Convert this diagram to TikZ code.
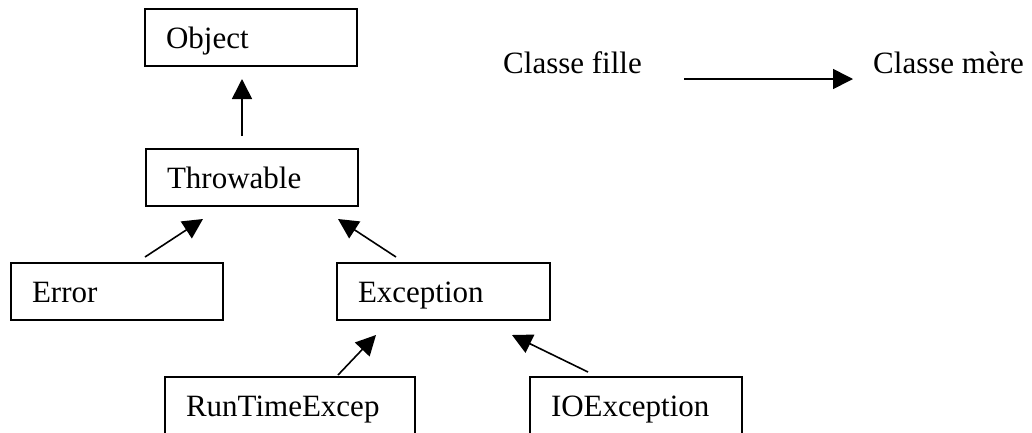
\documentclass[tikz,border=0pt]{standalone}
\usepackage{fontspec}
\setmainfont{Liberation Serif}
\usetikzlibrary{arrows.meta}
\begin{document}
\begin{tikzpicture}[x=1pt,y=-1pt,
  cls/.style={draw, line width=1.6pt, rectangle, anchor=north west, outer sep=0pt,
    minimum height=57pt, inner xsep=21pt, inner ysep=0pt,
    text height=28pt, text depth=6pt, align=left, text width=#1,
    font=\fontsize{31}{37}\selectfont},
  lbl/.style={anchor=base west, inner sep=0pt, font=\fontsize{31}{37}\selectfont},
  arr/.style={line width=1.6pt, -{Triangle[length=20pt,width=20pt]}}]
\useasboundingbox (0,0) rectangle (1032,432);
\clip (0,0) rectangle (1032,432);
% class boxes
\node[cls=170pt] (object) at (145,9) {Object};
\node[cls=170pt] (throwable) at (146,149) {Throwable};
\node[cls=170pt] (error) at (11,263) {Error};
\node[cls=171pt] (exception) at (337,263) {Exception};
\node[cls=208pt] (runtime) at (165,377) {RunTimeExcep};
\node[cls=170pt] (ioexc) at (530,377) {IOException};
% connector ends
\coordinate (t0) at (242,136); \coordinate (t1) at (242,79);
\coordinate (e0) at (145,257); \coordinate (e1) at (203,219);
\coordinate (x0) at (396,257); \coordinate (x1) at (338,219);
\coordinate (r0) at (338,375); \coordinate (r1) at (376,335);
\coordinate (i0) at (588,372); \coordinate (i1) at (512,335);
\draw[arr] (t0) -- (t1);
\draw[arr] (e0) -- (e1);
\draw[arr] (x0) -- (x1);
\draw[arr] (r0) -- (r1);
\draw[arr] (i0) -- (i1);
% legend
\node[lbl] (fille) at (503,73) {Classe fille};
\node[lbl] (mere) at (873,73) {Classe mère};
\coordinate (l0) at (684,79); \coordinate (l1) at (853,79);
\draw[arr] (l0) -- (l1);
\end{tikzpicture}
\end{document}
